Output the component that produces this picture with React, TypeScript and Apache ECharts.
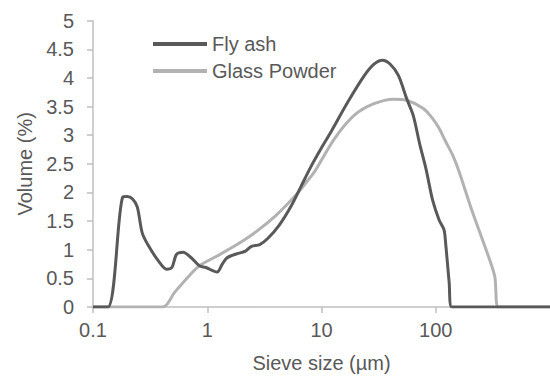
import React, { useEffect, useRef } from "react";
import * as echarts from "echarts";

const seriesNames = ["Fly ash", "Glass Powder"];
const xAxisTitle = "Sieve size (µm)";
const yAxisTitle = "Volume (%)";

const flyAsh: [number, number][] = [
  [0.1, 0], [0.135, 0], [0.182, 1.92], [0.2, 1.93], [0.221, 1.89], [0.244, 1.75],
  [0.27, 1.29], [0.308, 1.06], [0.375, 0.8], [0.44, 0.66], [0.49, 0.69],
  [0.538, 0.92], [0.614, 0.957], [0.724, 0.86], [0.853, 0.72], [0.973, 0.69],
  [1.22, 0.61], [1.35, 0.745], [1.49, 0.86], [1.82, 0.93], [2.14, 0.97],
  [2.44, 1.06], [2.88, 1.09], [3.4, 1.2], [4.27, 1.43], [5.38, 1.75],
  [6.56, 2.09], [7.98, 2.43], [10, 2.78], [12.2, 3.07], [17, 3.58],
  [23.7, 4.04], [28.8, 4.24], [34, 4.31], [40, 4.24], [47.2, 4.04],
  [55.6, 3.64], [63.4, 3.35], [72.3, 2.85], [82.4, 2.4], [94, 1.86],
  [107, 1.52], [118, 1.35], [122, 1.12], [131, 0.43], [138, 0], [1000, 0],
];

const glassPowder: [number, number][] = [
  [0.1, 0], [0.406, 0], [0.52, 0.26], [0.656, 0.49], [0.853, 0.72],
  [1.22, 0.89], [1.82, 1.09], [2.7, 1.32], [4.0, 1.6], [5.94, 1.95],
  [7.73, 2.23], [8.8, 2.38], [13.1, 2.95], [19.4, 3.35], [28.8, 3.55],
  [42.8, 3.63], [55.6, 3.61], [77.3, 3.47], [94, 3.29], [107, 3.12],
  [122, 2.89], [140, 2.66], [159, 2.38], [207, 1.69], [269, 1.06],
  [328, 0.54], [355, 0], [1000, 0],
];

const xMin = 0.1;
const xMax = 1000;
const yMin = 0;
const yMax = 5;
const yInterval = 0.5;

export default function App() {
  const ref = useRef<HTMLDivElement>(null);
  useEffect(() => {
    if (!ref.current) return;
    const chart = echarts.init(ref.current, null, { renderer: "svg" });
    const font = "'Liberation Sans', Arial, sans-serif";
    const textColor = "#595959";
    const axisColor = "#bfbfbf";
    chart.setOption({
      animation: false,
      textStyle: { fontFamily: font },
      grid: { left: 93, right: -9.8, top: 20.7, bottom: 66.3, containLabel: false },
      legend: {
        orient: "vertical",
        left: 148,
        top: 29,
        itemWidth: 54,
        itemHeight: 4,
        itemGap: 7,
        icon: "rect",
        textStyle: { fontSize: 20, color: textColor, fontFamily: font, lineHeight: 20 },
        data: seriesNames,
      },
      xAxis: {
        type: "log",
        logBase: 10,
        min: xMin,
        max: xMax,
        name: xAxisTitle,
        nameLocation: "middle",
        nameGap: 46,
        nameTextStyle: { fontSize: 20, color: textColor, fontFamily: font },
        axisLine: { show: true, lineStyle: { color: axisColor, width: 1.5 } },
        axisTick: { show: true, length: 6, lineStyle: { color: axisColor, width: 1.5 } },
        axisLabel: {
          fontSize: 20,
          color: textColor,
          margin: 13,
          fontFamily: font,
          showMaxLabel: false,
          formatter: (v: number) => (v >= xMax ? "" : String(Number(v.toPrecision(3)))),
        },
        splitLine: { show: false },
        minorTick: { show: false },
      },
      yAxis: {
        type: "value",
        min: yMin,
        max: yMax,
        interval: yInterval,
        name: yAxisTitle,
        nameLocation: "middle",
        nameGap: 56,
        nameTextStyle: { fontSize: 20, color: textColor, fontFamily: font },
        axisLine: { show: true, lineStyle: { color: axisColor, width: 1.5 } },
        axisTick: { show: true, length: 6, lineStyle: { color: axisColor, width: 1.5 } },
        axisLabel: { fontSize: 20, color: textColor, margin: 19, fontFamily: font },
        splitLine: { show: false },
      },
      series: [
        {
          name: seriesNames[0],
          type: "line",
          data: flyAsh,
          showSymbol: false,
          symbol: "none",
          smooth: 0.3,
          lineStyle: { color: "#595959", width: 3 },
          itemStyle: { color: "#595959" },
          z: 3,
        },
        {
          name: seriesNames[1],
          type: "line",
          data: glassPowder,
          showSymbol: false,
          symbol: "none",
          smooth: 0.3,
          lineStyle: { color: "#b2b2b2", width: 3 },
          itemStyle: { color: "#b2b2b2" },
          z: 2,
        },
      ],
    });
    return () => chart.dispose();
  }, []);
  return <div ref={ref} style={{ width: 550, height: 378, position: "absolute", left: 0, top: 0 }} />;
}
